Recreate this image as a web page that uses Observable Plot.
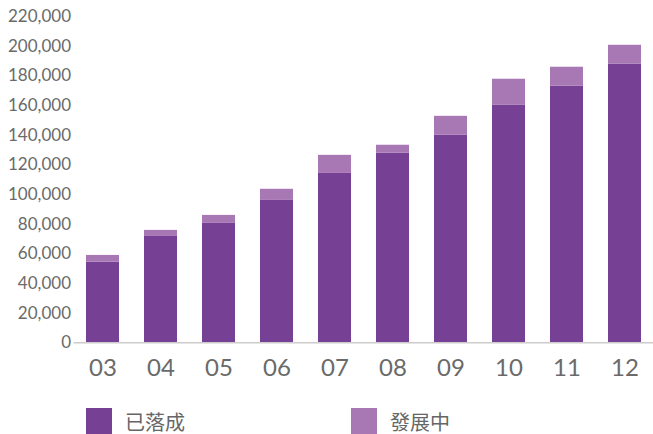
<!DOCTYPE html>
<html>
<head>
<meta charset="utf-8">
<script src="https://cdn.jsdelivr.net/npm/d3@7"></script>
<script src="https://cdn.jsdelivr.net/npm/@observablehq/plot@0.6"></script>
<style>
  html, body { margin: 0; padding: 0; background: #fff; }
  #chart svg { display: block; }
  .legend { position: relative; height: 36px; font-family: "Noto Sans CJK TC", "Noto Sans", sans-serif; font-size: 20px; color: #666; }
  .legend .item { position: absolute; top: 10px; display: flex; align-items: center; height: 26px; }
  .legend .sw { width: 26px; height: 26px; margin-right: 13px; }
</style>
</head>
<body>
<div id="chart"></div>
<div class="legend" id="legend"></div>
<script>
const years = ["03", "04", "05", "06", "07", "08", "09", "10", "11", "12"];
const seriesNames = ["已落成", "發展中"];
const colors = ["#764095", "#a778b4"];
const built = [54400, 71700, 80500, 96000, 114200, 127800, 139900, 160100, 173000, 187800];
const developing = [4500, 4100, 5400, 7500, 12200, 5400, 12800, 17600, 12800, 12800];
const yTicks = [0, 20000, 40000, 60000, 80000, 100000, 120000, 140000, 160000, 180000, 200000, 220000];

const rows = [];
years.forEach((y, i) => {
  rows.push({year: y, series: seriesNames[0], value: built[i]});
  rows.push({year: y, series: seriesNames[1], value: developing[i]});
});

const plot = Plot.plot({
  width: 653,
  height: 398,
  marginLeft: 73.5,
  marginRight: 0,
  marginTop: 16,
  marginBottom: 55.7,
  style: {fontFamily: "Lato, sans-serif", color: "#666", background: "#fff"},
  x: {domain: years, range: [73.5, 654.5], paddingInner: 0.43, paddingOuter: 0.215, label: null},
  y: {domain: [0, 220000], label: null},
  color: {domain: seriesNames, range: colors},
  marks: [
    Plot.barY(rows, {x: "year", y: "value", fill: "series", order: seriesNames}),
    Plot.ruleY([0], {stroke: "#cccccc", strokeWidth: 1.5}),
    Plot.axisY({ticks: yTicks, tickFormat: d3.format(","), tickSize: 0, tickPadding: 3, fontSize: 17, fill: "#6a6a6a", label: null}),
    Plot.axisX({tickSize: 0, tickPadding: 16, fontSize: 24, fill: "#6a6a6a", label: null})
  ]
});
document.getElementById("chart").appendChild(plot);

const legend = document.getElementById("legend");
const lx = [86, 351];
seriesNames.forEach((name, i) => {
  const item = document.createElement("div");
  item.className = "item";
  item.style.left = lx[i] + "px";
  const sw = document.createElement("div");
  sw.className = "sw";
  sw.style.background = colors[i];
  const t = document.createElement("span");
  t.textContent = name;
  item.appendChild(sw);
  item.appendChild(t);
  legend.appendChild(item);
});
</script>
</body>
</html>
